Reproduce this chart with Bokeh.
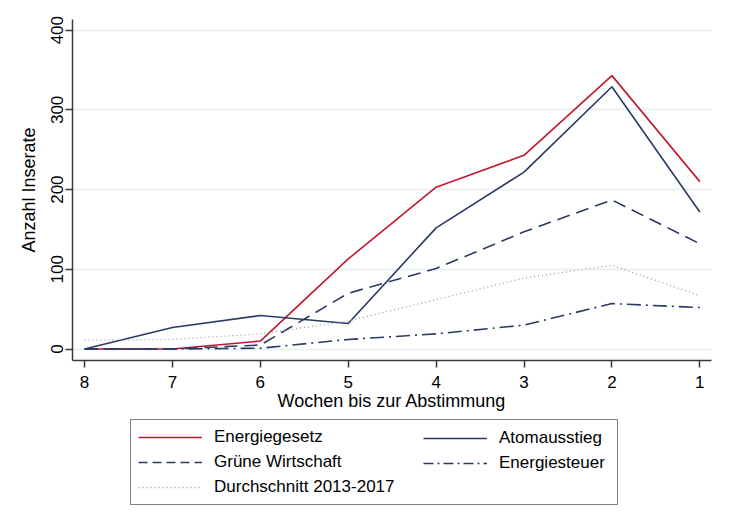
from bokeh.plotting import figure
from bokeh.models import Range1d, Legend, LegendItem, FixedTicker
from bokeh.layouts import column
from bokeh.embed import file_html
from bokeh.resources import INLINE

weeks = [8, 7, 6, 5, 4, 3, 2, 1]
week_ticks = [8, 7, 6, 5, 4, 3, 2, 1]
y_ticks = [0, 100, 200, 300, 400]
energiegesetz = [0, 0, 10, 113, 203, 243, 343, 210]
atomausstieg = [0, 27, 42, 32, 152, 222, 329, 172]
gruene_wirtschaft = [0, 0, 5, 70, 101, 147, 187, 132]
energiesteuer = [0, 0, 1, 12, 19, 30, 57, 52]
durchschnitt = [11, 12, 19, 35, 62, 89, 105, 67]

FONT = "Liberation Sans"
RED = "#c0182f"
NAVY = "#2a3a64"
GREY = "#9a9a9a"

p = figure(width=730, height=415,
           x_range=Range1d(8.137, 0.867), y_range=Range1d(-14.4, 413.4),
           output_backend="svg", toolbar_location=None,
           min_border_left=72, min_border_right=19,
           min_border_top=19, min_border_bottom=55)
p.outline_line_color = None
p.background_fill_color = "white"
p.border_fill_color = "white"
p.xgrid.visible = False
p.ygrid.grid_line_color = "#e6eef0"
p.ygrid.grid_line_width = 1.5

p.xaxis.ticker = FixedTicker(ticks=week_ticks)
p.yaxis.ticker = FixedTicker(ticks=y_ticks)
for ax in (p.xaxis, p.yaxis):
    ax.axis_line_color = "#3a3a3a"
    ax.axis_line_width = 1.5
    ax.major_tick_line_color = "#3a3a3a"
    ax.major_tick_line_width = 1.5
    ax.major_tick_out = 7
    ax.major_tick_in = 0
    ax.minor_tick_line_color = None
    ax.major_label_text_font = FONT
    ax.major_label_text_font_size = "17px"
    ax.major_label_text_color = "black"
    ax.axis_label_text_font = FONT
    ax.axis_label_text_font_size = "18px"
    ax.axis_label_text_font_style = "normal"
    ax.axis_label_text_color = "black"

p.xaxis.axis_label = "Wochen bis zur Abstimmung"
p.yaxis.axis_label = "Anzahl Inserate"
p.yaxis.major_label_orientation = "vertical"
p.xaxis.major_label_standoff = 8
p.xaxis.axis_label_standoff = 0
p.yaxis.major_label_standoff = 2
p.yaxis.axis_label_standoff = 10

p.line(weeks, energiegesetz, line_color=RED, line_width=1.6)
p.line(weeks, atomausstieg, line_color=NAVY, line_width=1.6)
p.line(weeks, gruene_wirtschaft, line_color=NAVY, line_width=1.6, line_dash="13 7")
p.line(weeks, energiesteuer, line_color=NAVY, line_width=1.6, line_dash="14 5 2 5")
p.line(weeks, durchschnitt, line_color=GREY, line_width=1.3, line_dash="1 3")

# legend panel below the chart (same side borders as the chart);
# its ranges lie away from the data, so only the legend keys are seen
lg = figure(width=730, height=116, x_range=Range1d(100, 101), y_range=Range1d(-100, -99),
            output_backend="svg", toolbar_location=None,
            x_axis_type=None, y_axis_type=None,
            min_border_left=72, min_border_right=19,
            min_border_top=4, min_border_bottom=24)
lg.xgrid.visible = False
lg.ygrid.visible = False
lg.outline_line_color = None
lg.background_fill_color = "white"
lg.border_fill_color = "white"

k1 = lg.line(weeks, energiegesetz, line_color=RED, line_width=1.6)
k2 = lg.line(weeks, atomausstieg, line_color=NAVY, line_width=1.6)
k3 = lg.line(weeks, gruene_wirtschaft, line_color=NAVY, line_width=1.6, line_dash="9 5")
k4 = lg.line(weeks, energiesteuer, line_color=NAVY, line_width=1.6, line_dash="10 4 2 4")
k5 = lg.line(weeks, durchschnitt, line_color=GREY, line_width=1.3, line_dash="1 3")


def make_legend(items, loc, boxed, label_width):
    leg = Legend(items=items, location=loc)
    leg.label_text_font = FONT
    leg.label_text_font_size = "17px"
    leg.label_text_color = "black"
    if boxed:
        leg.border_line_color = "black"
        leg.border_line_width = 1
        leg.background_fill_color = "white"
        leg.background_fill_alpha = 1
    else:
        leg.border_line_color = None
        leg.background_fill_alpha = 0
    leg.glyph_width = 64
    leg.glyph_height = 20
    leg.label_height = 20
    leg.label_width = label_width
    leg.label_standoff = 12
    leg.spacing = 5
    leg.padding = 7
    leg.margin = 0
    return leg


leg_a = make_legend([
    LegendItem(label="Energiegesetz", renderers=[k1]),
    LegendItem(label="Grüne Wirtschaft", renderers=[k3]),
    LegendItem(label="Durchschnitt 2013-2017", renderers=[k5]),
], (58, 2), True, 396)
leg_b = make_legend([
    LegendItem(label="Atomausstieg", renderers=[k2]),
    LegendItem(label="Energiesteuer", renderers=[k4]),
], (351, 34), False, 20)
lg.add_layout(leg_a, "center")
lg.add_layout(leg_b, "center")

layout = column(p, lg, spacing=0)
open("out.html", "w").write(file_html(layout, INLINE))
